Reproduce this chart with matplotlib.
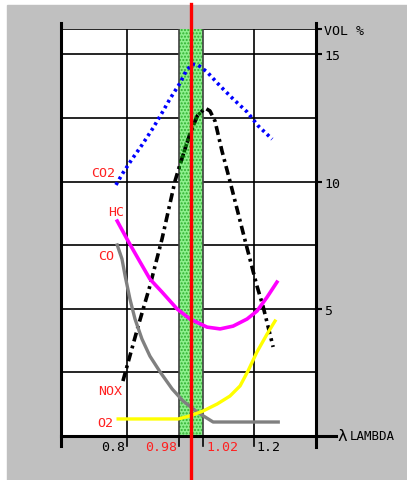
import matplotlib.pyplot as plt
from matplotlib.patches import Rectangle

# exhaust gas readings vs lambda (vol %)
co2_lambda = [0.765, 0.787, 0.816, 0.847, 0.882, 0.910, 0.935, 0.967, 0.986, 1.005,
              1.024, 1.052, 1.093, 1.134, 1.178, 1.213, 1.257]
co2_vol = [9.87, 10.34, 10.89, 11.44, 12.11, 12.70, 13.25, 13.88, 14.35, 14.62,
           14.58, 14.31, 13.76, 13.25, 12.74, 12.19, 11.67]

nox_lambda = [0.787, 0.835, 0.872, 0.910, 0.951, 0.967, 0.998, 1.021, 1.046, 1.061,
              1.077, 1.099, 1.124, 1.172, 1.209, 1.228, 1.260]
nox_vol = [2.16, 4.32, 5.90, 7.74, 10.02, 10.69, 11.87, 12.58, 12.89, 12.78,
           12.38, 11.20, 10.02, 7.67, 5.90, 5.11, 3.50]

hc_lambda = [0.769, 0.803, 0.841, 0.872, 0.910, 0.958, 0.998, 1.052, 1.093, 1.134,
             1.178, 1.209, 1.241, 1.272]
hc_vol = [8.45, 7.67, 6.84, 6.17, 5.66, 4.99, 4.60, 4.28, 4.21, 4.32,
          4.60, 4.91, 5.46, 6.05]

co_lambda = [0.769, 0.784, 0.794, 0.809, 0.825, 0.847, 0.872, 0.904, 0.942, 0.976,
             1.021, 1.071, 1.276]
co_vol = [7.51, 6.96, 6.29, 5.39, 4.60, 3.81, 3.14, 2.52, 1.85, 1.38,
          0.94, 0.55, 0.55]

o2_lambda = [0.772, 0.961, 0.998, 1.039, 1.084, 1.124, 1.156, 1.181, 1.209, 1.241, 1.266]
o2_vol = [0.67, 0.67, 0.79, 0.98, 1.26, 1.57, 1.97, 2.56, 3.30, 4.01, 4.52]

vol_ticks = [5, 10, 15, 16]
vol_labels = ['5', '10', '15', 'VOL %']
grid_vol = [2.5, 5, 7.5, 10, 12.5, 15]
band = (0.965, 1.04)   # stoichiometric window
stoich = 1.0

mono = 'DejaVu Sans Mono'
fs = 9.5

fig = plt.figure(figsize=(4.07, 4.81), dpi=100)
fig.patches.append(Rectangle((7 / 407, 0), 400 / 407, 475 / 481, transform=fig.transFigure,
                             color='#c0c0c0', zorder=-10))
ax = fig.add_axes([61 / 407, 44 / 481, 255 / 407, 407 / 481])
ax.set_facecolor('white')
ax.set_xlim(0.592, 1.395)
ax.set_ylim(0, 16)
x0, x1 = ax.get_xlim()

for s in ax.spines.values():
    s.set_visible(False)

# grid
for v in grid_vol + [16]:
    ax.axhline(v, color='black', lw=1.2, zorder=1)
for lx in [0.8, 1.2]:
    ax.axvline(lx, color='black', lw=1.2, zorder=1)

# green window
ax.axvspan(band[0], band[1], facecolor='#8ef08e', edgecolor='#30b030', hatch='.....',
           lw=0, zorder=1.5)
for lx in band:
    ax.axvline(lx, color='#404040', lw=1.2, zorder=1.6)

# frame lines running past the box
ax.plot([x0, x0], [-0.4, 16.25], color='black', lw=2.2, clip_on=False, zorder=5)
ax.plot([x1, x1], [-0.45, 16.25], color='black', lw=2.2, clip_on=False, zorder=5)
ax.plot([x0, 1.457], [0, 0], color='black', lw=2.2, clip_on=False, zorder=5)
for lx in [0.8, band[0], band[1], 1.2]:
    ax.plot([lx, lx], [0, -0.4], color='black', lw=1.2, clip_on=False, zorder=5)

# curves
ax.plot(co2_lambda, co2_vol, color='blue', lw=2.6, ls=(0, (0.8, 1.0)), zorder=3)
ax.plot(nox_lambda, nox_vol, color='black', lw=2.6, ls=(0, (2.5, 1.2, 0.8, 1.2)), zorder=3)
nox_in = ax.plot(nox_lambda, nox_vol, color='#006000', lw=2.6, ls=(0, (0.8, 0.8)), zorder=3.1)[0]
nox_in.set_clip_path(Rectangle((band[0], 0), band[1] - band[0], 16, transform=ax.transData))
ax.plot(hc_lambda, hc_vol, color='magenta', lw=2.6, zorder=3)
ax.plot(co_lambda, co_vol, color='#808080', lw=2.4, zorder=3)
ax.plot(o2_lambda, o2_vol, color='yellow', lw=2.4, zorder=3)

# stoichiometric marker
ax.plot([stoich, stoich], [-1.75, 17.0], color='red', lw=2.4, clip_on=False, zorder=6)

# curve names
red = '#ff2020'
ax.text(0.762, 10.34, 'CO2', color=red, ha='right', va='center', family=mono, size=fs)
ax.text(0.791, 8.84, 'HC', color=red, ha='right', va='center', family=mono, size=fs)
ax.text(0.759, 7.11, 'CO', color=red, ha='right', va='center', family=mono, size=fs)
ax.text(0.784, 1.77, 'NOX', color=red, ha='right', va='center', family=mono, size=fs)
ax.text(0.756, 0.55, 'O2', color=red, ha='right', va='center', family=mono, size=fs)

# lambda axis labels
ax.set_xticks([])
ax.text(0.794, -0.42, '0.8', ha='right', va='center', family=mono, size=fs)
ax.text(0.958, -0.42, '0.98', color=red, ha='right', va='center', family=mono, size=fs)
ax.text(1.049, -0.42, '1.02', color=red, ha='left', va='center', family=mono, size=fs)
ax.text(1.206, -0.42, '1.2', ha='left', va='center', family=mono, size=fs)
ax.text(1.463, 0, 'λ', ha='left', va='center', family=mono, size=fs + 2)
ax.text(1.50, 0, 'LAMBDA', ha='left', va='center', family=mono, size=fs - 0.5)

# vol % axis
ax.yaxis.tick_right()
ax.set_yticks(vol_ticks)
ax.set_yticklabels(vol_labels, family=mono, size=fs)
ax.tick_params(axis='y', direction='out', length=4, width=1.5, pad=2, color='black')

fig.savefig('out.png', dpi=100)
